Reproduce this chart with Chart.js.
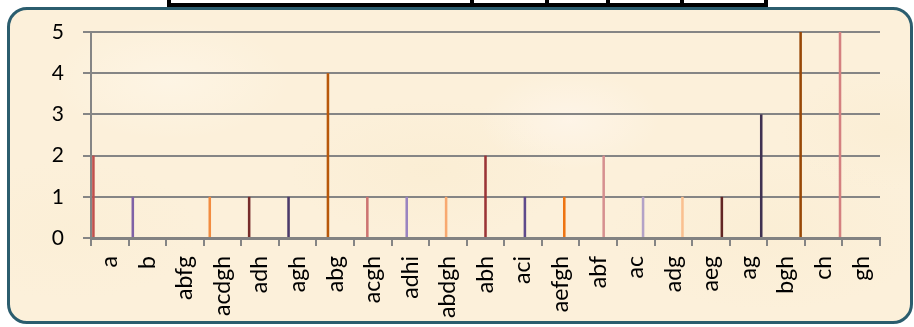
<!DOCTYPE html>
<html>
<head>
<meta charset="utf-8">
<script src="https://cdn.jsdelivr.net/npm/chart.js@4"></script>
<style>
  html, body { margin: 0; padding: 0; background: #ffffff; }
  #wrap { position: relative; width: 914px; height: 327px; overflow: hidden; }
  #frame {
    position: absolute; left: 7px; top: 7px; width: 900px; height: 311px;
    border: 3px solid #2b5d6e; border-radius: 20px;
    background:
      radial-gradient(ellipse 120px 60px at 160px 70px, rgba(255,249,238,0.5), rgba(255,249,238,0) 100%),
      radial-gradient(ellipse 90px 50px at 560px 110px, rgba(255,248,242,0.55), rgba(255,248,242,0) 100%),
      radial-gradient(ellipse 140px 70px at 420px 160px, rgba(248,232,198,0.3), rgba(248,232,198,0) 100%),
      radial-gradient(ellipse 160px 80px at 760px 220px, rgba(248,233,200,0.28), rgba(248,233,200,0) 100%),
      radial-gradient(ellipse 130px 70px at 60px 220px, rgba(249,235,204,0.25), rgba(249,235,204,0) 100%),
      radial-gradient(ellipse 110px 60px at 880px 120px, rgba(248,233,200,0.3), rgba(248,233,200,0) 100%),
      #fcf0da;
  }
  #table {
    position: absolute; left: 167px; top: -12px; width: 593px; height: 11px;
    border: 4px solid #000; background: #fff;
  }
  .div { position: absolute; top: 0; width: 4px; height: 11px; background: #000; }
  #chart { position: absolute; left: 0; top: 0; }
</style>
</head>
<body>
<div id="wrap">
  <div id="frame"></div>
  <div id="table">
    <div class="div" style="left:299px"></div>
    <div class="div" style="left:374px"></div>
    <div class="div" style="left:435px"></div>
    <div class="div" style="left:509px"></div>
  </div>
  <canvas id="chart" width="914" height="327"></canvas>
</div>
<script>
// Categories along the x axis and how often each one occurs
const categories = ['a', 'b', 'abfg', 'acdgh', 'adh', 'agh', 'abg', 'acgh', 'adhi', 'abdgh',
                    'abh', 'aci', 'aefgh', 'abf', 'ac', 'adg', 'aeg', 'ag', 'bgh', 'ch', 'gh'];
const counts = [2, 1, 0, 1, 1, 1, 4, 1, 1, 1, 2, 1, 1, 2, 1, 1, 1, 3, 5, 5, 0];

// One colour per series (red / purple / orange families)
const seriesColors = ['#c0504d', '#7f62a6', '#f28c40', '#772c2a', '#4b3a6a', '#b8580a',
                      '#cd7472', '#9a84c0', '#f8a970', '#9b3436', '#5f4a8b', '#ee7412',
                      '#d69090', '#b3a2c7', '#fac090', '#632523', '#3f3151', '#984807',
                      '#d48080'];
const yTicks = [0, 1, 2, 3, 4, 5];

// Each non-empty category is its own series, so bars sit side by side in grouped slots
const datasets = [];
categories.forEach((cat, i) => {
  if (counts[i] > 0) {
    const data = categories.map((_, k) => (k === i ? counts[i] : null));
    datasets.push({
      label: cat,
      data: data,
      backgroundColor: seriesColors[datasets.length % seriesColors.length],
      borderWidth: 0,
      categoryPercentage: 0.92,
      barPercentage: 1.4
    });
  }
});

const gridGray = '#858585';

new Chart(document.getElementById('chart'), {
  type: 'bar',
  data: { labels: categories, datasets: datasets },
  options: {
    responsive: false,
    animation: false,
    devicePixelRatio: 1,
    layout: { padding: { top: 32, right: 34, bottom: 0, left: 0 } },
    plugins: { legend: { display: false }, tooltip: { enabled: false } },
    scales: {
      x: {
        offset: true,
        afterFit: (s) => { s.height = 89; },
        grid: { offset: true, drawOnChartArea: false, drawTicks: true, tickLength: 8,
                color: gridGray, lineWidth: 2 },
        border: { display: true, color: '#828282', width: 3 },
        ticks: {
          autoSkip: false, maxRotation: 90, minRotation: 90, padding: 10,
          color: '#000', font: { family: 'Lato', size: 23 }
        }
      },
      y: {
        min: 0, max: 5,
        afterFit: (s) => { s.width = 91; },
        afterBuildTicks: (s) => { s.ticks = yTicks.map(v => ({ value: v })); },
        grid: { color: gridGray, lineWidth: 2, tickLength: 8, drawTicks: true },
        border: { display: true, color: gridGray, width: 2 },
        ticks: { padding: 19, color: '#000', font: { family: 'Lato', size: 21 } }
      }
    }
  }
});
</script>
</body>
</html>
